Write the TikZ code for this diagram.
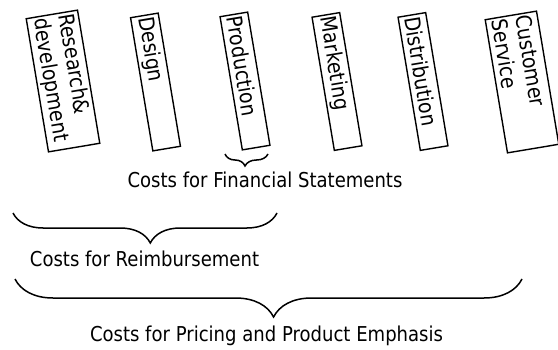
\documentclass[tikz,border=0pt]{standalone}
\usepackage{fontspec}
\setmainfont{DejaVu Sans}[FakeStretch=0.88]
\usetikzlibrary{decorations.pathreplacing}
\begin{document}
\begin{tikzpicture}[x=1pt,y=1pt,
  box/.style={draw,line width=1.4pt,rotate=-80.5,minimum height=28pt,text width=131pt,inner sep=2pt,align=left,font=\fontsize{21.5}{25}\selectfont},
  wbox/.style={box,minimum height=52pt},
  lbl/.style={font=\fontsize{20.5}{24}\selectfont,inner sep=0pt},
  brc/.style={decorate,line width=1.5pt}]
\useasboundingbox (0,0) rectangle (558,349);
\node[wbox] (rd) at (63,268) {Research\&\\development};
\node[box] (des) at (155.5,267) {Design};
\node[box] (prod) at (245,268) {Production};
\node[box] (mkt) at (337,267.5) {Marketing};
\node[box] (dist) at (423,267.5) {Distribution};
\node[wbox] (cs) at (522,267) {Customer\\Service};
\coordinate (s1) at (225,195);
\coordinate (e1) at (268,195);
\coordinate (s2) at (13,136);
\coordinate (e2) at (277,136);
\coordinate (s3) at (15,70);
\coordinate (e3) at (522,70);
\draw[brc,decoration={brace,mirror,amplitude=12pt,aspect=0.465}] (s1) -- (e1);
\draw[brc,decoration={brace,mirror,amplitude=30pt,aspect=0.52}] (s2) -- (e2);
\draw[brc,decoration={brace,mirror,amplitude=38pt,aspect=0.51}] (s3) -- (e3);
\node[lbl] (fin) at (265,169) {Costs for Financial Statements};
\node[lbl] (reimb) at (144.5,90) {Costs for Reimbursement};
\node[lbl] (price) at (266.5,13) {Costs for Pricing and Product Emphasis};
\end{tikzpicture}
\end{document}
